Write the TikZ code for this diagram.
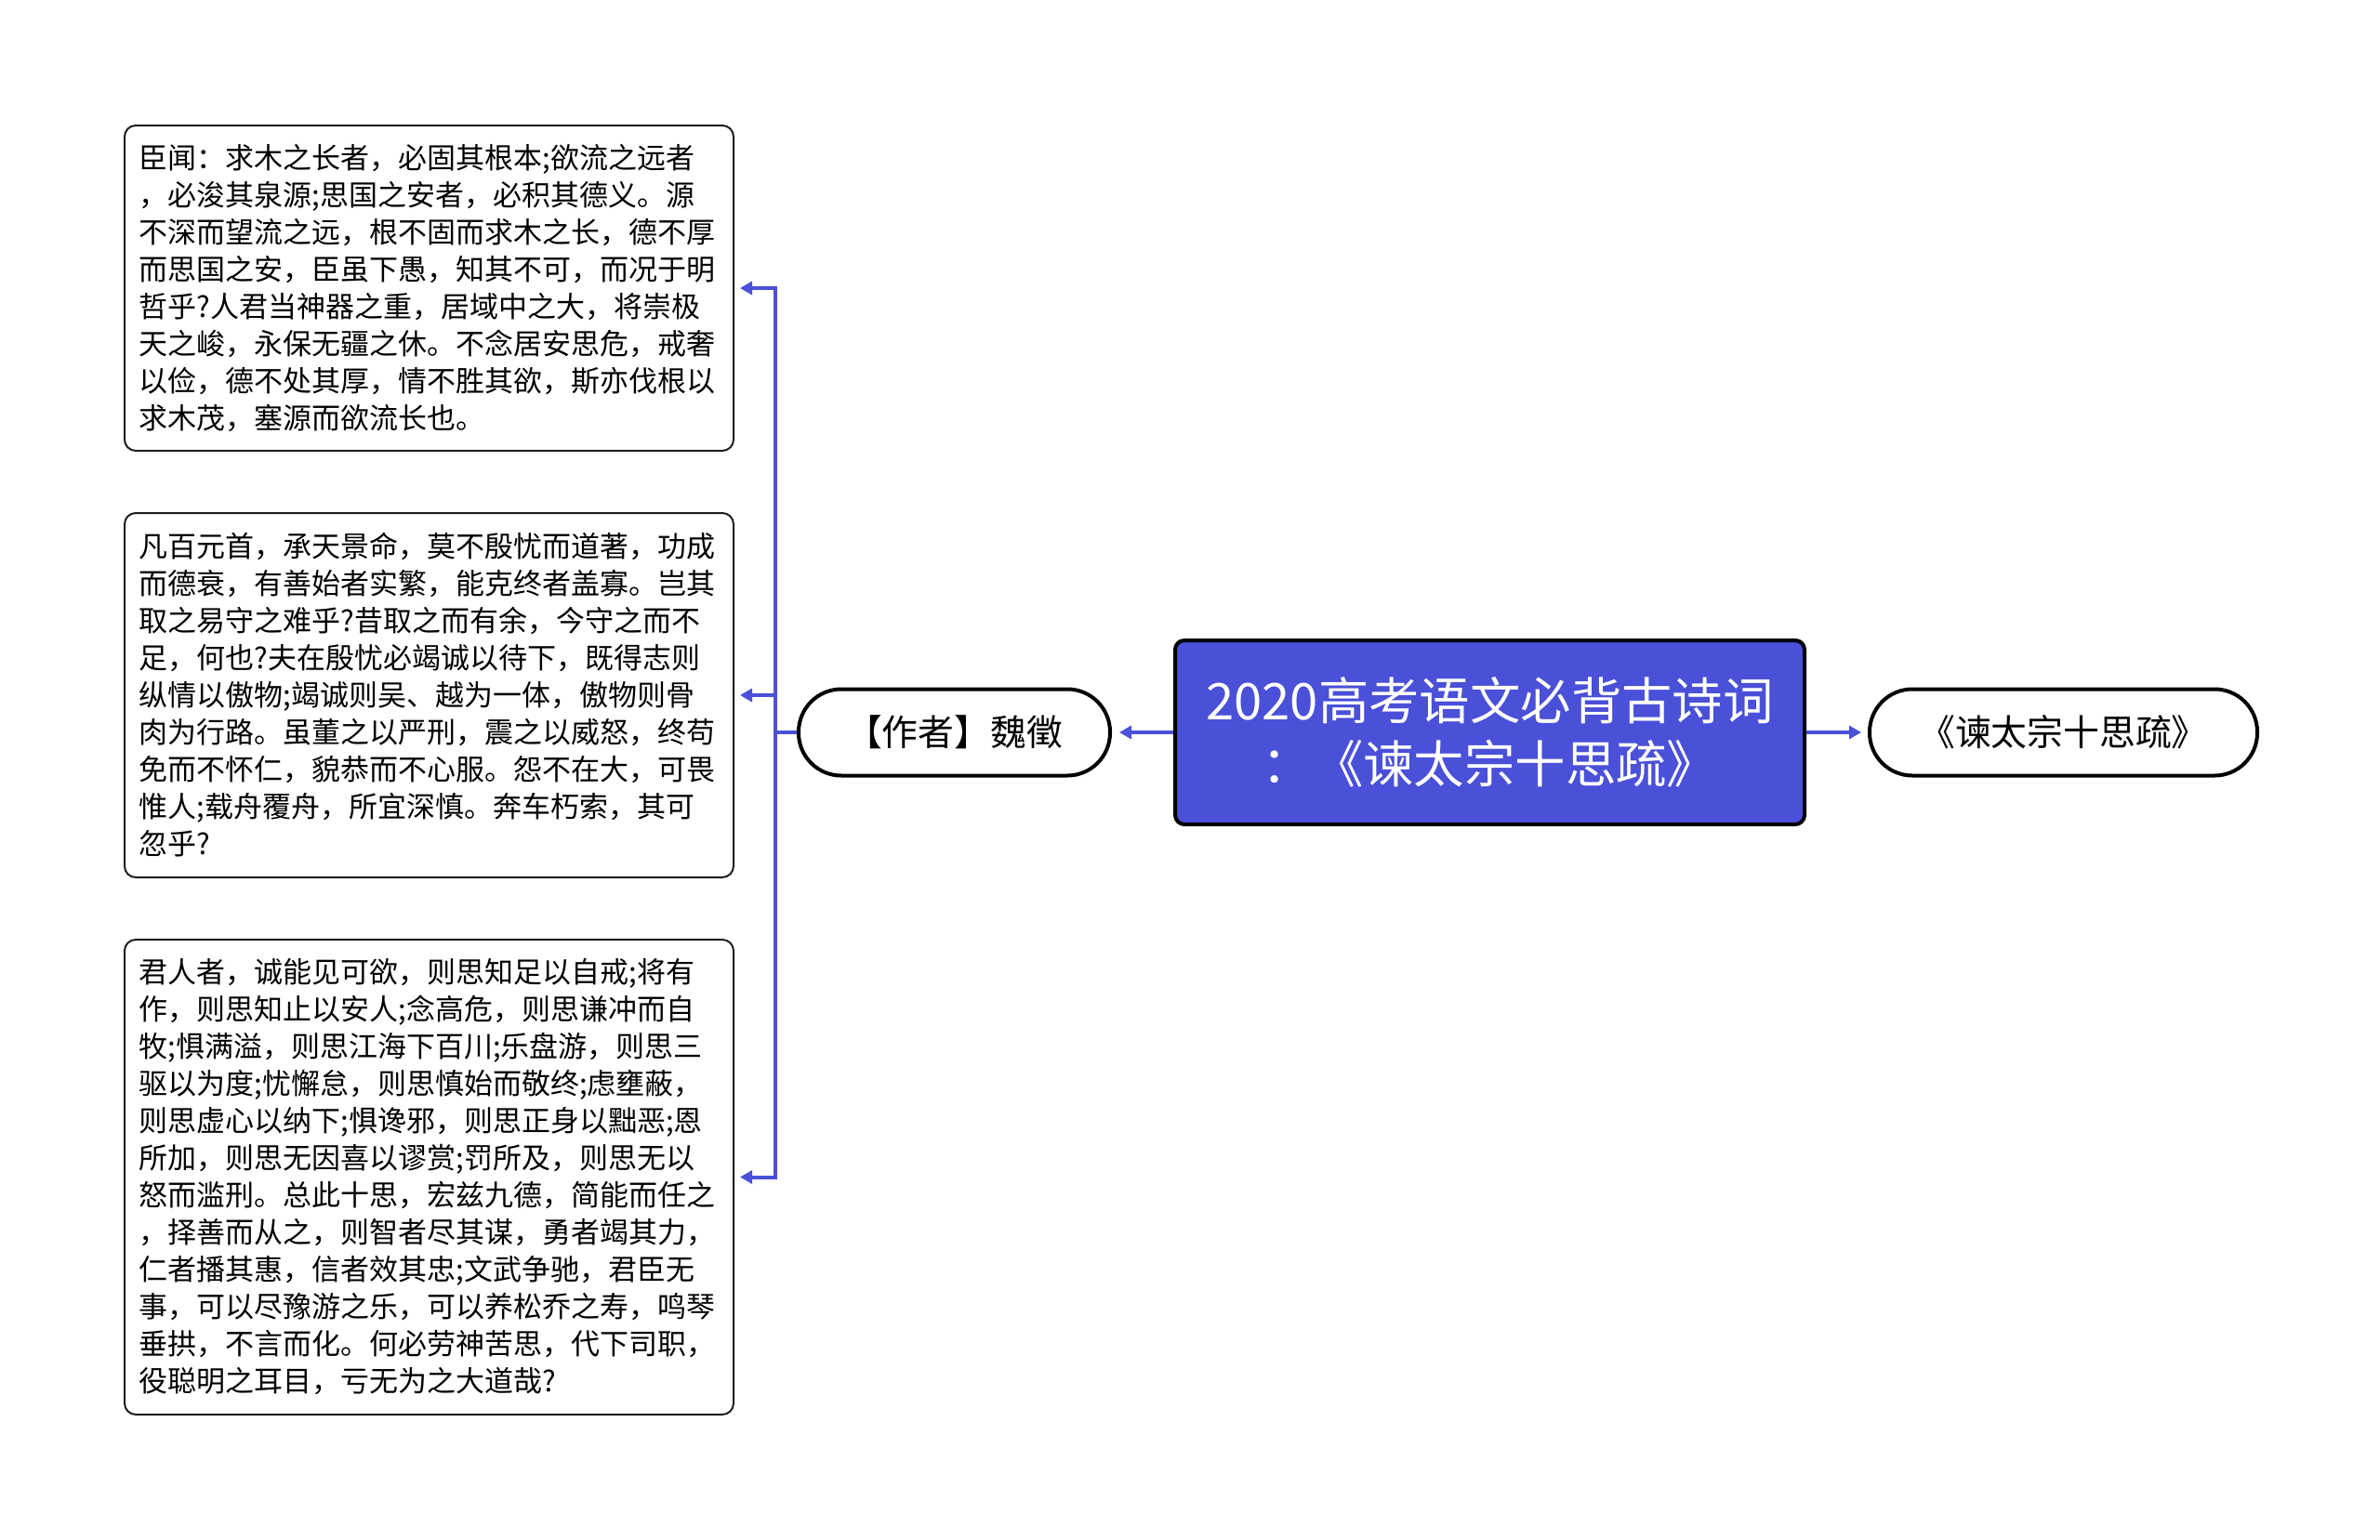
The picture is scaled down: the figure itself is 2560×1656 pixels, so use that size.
\documentclass[tikz,border=0pt]{standalone}
\usepackage{fontspec}
\newfontfamily\cjk{Noto Sans CJK SC}
\usepackage{tikz}
\usetikzlibrary{arrows.meta,positioning}
\definecolor{lan}{RGB}{74,80,216}
\definecolor{bian}{RGB}{30,30,30}
\tikzset{
  zhu/.style={draw=black,line width=2pt,fill=lan,rounded corners=5pt,align=center,
    text=white,font=\cjk\fontsize{27.2}{34}\selectfont,
    minimum width=338.5pt,minimum height=99pt,inner sep=0pt},
  ye/.style={draw=black,line width=2pt,fill=white,rounded corners=23pt,
    font=\cjk\fontsize{19.4}{24}\selectfont,minimum height=46.5pt,inner sep=0pt},
  wen/.style={draw=bian,line width=1pt,rounded corners=6pt,align=left,
    font=\cjk\fontsize{15.5}{20}\selectfont,text width=312pt,inner sep=7.75pt,
    minimum width=327.5pt},
  lian/.style={draw=lan,line width=2pt,-{Triangle[length=6.5pt,width=7pt]}},
}
\begin{document}
\begin{tikzpicture}[x=0.5pt,y=-0.5pt]
  \useasboundingbox (0,0) rectangle (2560,1656);
  \node[zhu] (main) at (1602.5,788) {2020高考语文必背古诗词\\：《谏太宗十思疏》};
  \node[ye,minimum width=167.5pt] (zuozhe) at (1026.5,788) {【作者】魏徵};
  \node[ye,minimum width=208.5pt] (pian) at (2219.5,788) {《谏太宗十思疏》};
  \node[wen,minimum height=175pt] (yuan1) at (461.5,310)
    {臣闻：求木之长者，必固其根本;欲流之远者\\
     ，必浚其泉源;思国之安者，必积其德义。源\\
     不深而望流之远，根不固而求木之长，德不厚\\
     而思国之安，臣虽下愚，知其不可，而况于明\\
     哲乎?人君当神器之重，居域中之大，将崇极\\
     天之峻，永保无疆之休。不念居安思危，戒奢\\
     以俭，德不处其厚，情不胜其欲，斯亦伐根以\\
     求木茂，塞源而欲流长也。};
  \node[wen,minimum height=196pt] (yuan2) at (461.5,748)
    {凡百元首，承天景命，莫不殷忧而道著，功成\\
     而德衰，有善始者实繁，能克终者盖寡。岂其\\
     取之易守之难乎?昔取之而有余，今守之而不\\
     足，何也?夫在殷忧必竭诚以待下，既得志则\\
     纵情以傲物;竭诚则吴、越为一体，傲物则骨\\
     肉为行路。虽董之以严刑，震之以威怒，终苟\\
     免而不怀仁，貌恭而不心服。怨不在大，可畏\\
     惟人;载舟覆舟，所宜深慎。奔车朽索，其可\\
     忽乎?};
  \node[wen,minimum height=255.5pt] (yuan3) at (461.5,1266.5)
    {君人者，诚能见可欲，则思知足以自戒;将有\\
     作，则思知止以安人;念高危，则思谦冲而自\\
     牧;惧满溢，则思江海下百川;乐盘游，则思三\\
     驱以为度;忧懈怠，则思慎始而敬终;虑壅蔽，\\
     则思虚心以纳下;惧谗邪，则思正身以黜恶;恩\\
     所加，则思无因喜以谬赏;罚所及，则思无以\\
     怒而滥刑。总此十思，宏兹九德，简能而任之\\
     ，择善而从之，则智者尽其谋，勇者竭其力，\\
     仁者播其惠，信者效其忠;文武争驰，君臣无\\
     事，可以尽豫游之乐，可以养松乔之寿，鸣琴\\
     垂拱，不言而化。何必劳神苦思，代下司职，\\
     役聪明之耳目，亏无为之大道哉?};
  \coordinate (gan) at (834,788);
  \draw[lian,shorten >=4pt] (main.west) -- (zuozhe.east);
  \draw[lian,shorten >=3.5pt] (main.east) -- (pian.west);
  \foreach \b in {yuan1,yuan2,yuan3}
    \draw[lian,shorten >=3pt] (zuozhe.west) -- (gan) |- (\b.east);
\end{tikzpicture}
\end{document}
